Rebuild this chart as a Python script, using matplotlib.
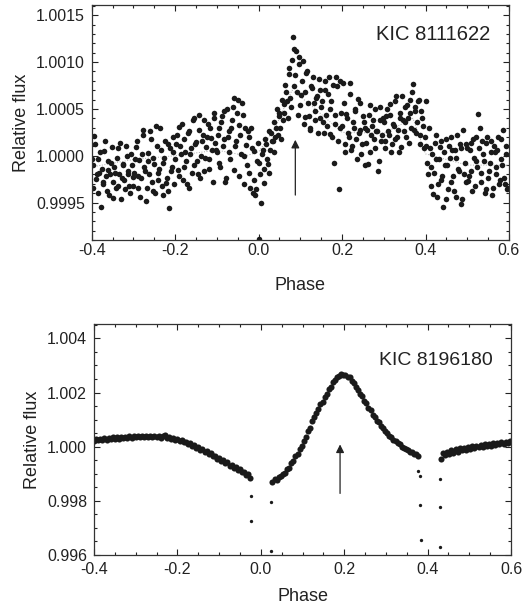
import numpy as np
import matplotlib
matplotlib.use('Agg')
import matplotlib.pyplot as plt
from matplotlib.ticker import MultipleLocator, FormatStrFormatter

plt.rcParams['font.family'] = ['Liberation Sans', 'DejaVu Sans']

# --- KIC 8111622 (top): flux offsets in units of 1e-4, ten phase segments of 0.1 ---
# first pass of points, phases start at -0.398, second pass at -0.400
top_a = [
    [-1.0, 2.1, -2.5, -0.3, -1.8, -5.5, -3.0, 0.5, -2.2, -1.5, -4.2, -0.8, -2.8, -1.2, -3.5, 0.8, -2.0, -4.6, -1.0, -2.6, 1.0, -1.6, -3.2, 0.2, -2.3],
    [-1.8, 0.9, -3.5, -0.5, -2.4, 2.8, -1.2, -4.8, 0.3, -2.0, 1.8, -3.8, -0.9, 3.2, -2.6, -1.4, 0.6, -4.2, -0.2, -2.9, 1.2, -5.6, -1.6, 0.4, -3.0],
    [1.2, -1.5, 3.1, 0.2, -2.6, 1.8, -0.6, 2.4, -3.4, 0.8, 3.8, -1.0, 1.5, -2.0, 4.4, 0.0, 2.2, -1.6, 0.9, 3.4, -0.4, 1.9, -2.8, 4.0, 0.6],
    [2.2, -0.8, 3.6, 1.0, 4.8, -2.4, 2.0, 0.4, 3.0, 5.2, -1.5, 1.6, 6.0, 3.3, 0.2, 4.4, -3.0, 1.1, 2.6, -1.8, 3.0, -4.0, 0.5, -3.6, 1.4],
    [-0.8, -5.0, 0.6, -2.9, 1.2, -0.9, -1.8, 2.4, 1.6, 0.4, 3.0, 2.2, 4.6, 1.8, 3.8, 5.5, 6.8, 4.0, 8.7, 5.2, 12.7, 7.4, 11.2, 4.4, 9.8],
    [6.5, 10.1, 4.1, 8.8, 5.6, 3.0, 7.4, 8.4, 4.8, 6.2, 2.4, 7.0, 5.2, 3.6, 8.0, 4.4, 6.6, 2.3, 5.8, 7.6, 3.4, 8.4, 1.6, 8.0, 4.6],
    [7.8, 1.2, 4.5, 2.4, 7.8, 0.6, 3.6, 5.0, 1.8, 6.1, 2.8, 0.2, 4.2, 3.0, 1.4, -0.9, 5.4, 2.2, 3.8, 0.8, 2.6, -1.6, 5.2, 1.6, 4.0],
    [1.6, 4.2, 2.6, 5.5, 0.4, 3.4, 1.8, 6.4, 2.8, 4.6, 0.9, 3.8, 5.2, 2.0, 4.0, 6.0, 3.0, 7.7, 4.8, 2.4, 5.8, 1.2, 4.8, 3.2, 2.0],
    [5.9, -2.0, 0.8, -1.2, -4.1, 1.4, -0.4, -3.0, 0.9, -2.6, -5.5, -1.0, 1.8, -3.6, -0.2, 2.0, -2.2, 0.6, -4.4, -1.4, 1.2, -5.2, 2.7, -0.8, -2.8],
    [-2.7, 0.6, -1.6, 1.8, -3.2, -0.6, 4.5, 3.0, -1.8, 0.2, -4.0, 1.4, -2.4, -0.8, 1.6, -3.4, 0.4, -1.2, 2.0, -2.6, -0.4, 2.7, -3.0, 1.0, -3.4],
]
top_b = [
    [-0.4, -3.4, 1.2, -2.0, -4.0, 0.4, -1.4, -2.8, 1.6, -3.8, -0.6, -2.0, 0.9, -4.5, -1.8, -0.2, -3.2, 1.4, -2.4, -0.9, -3.6, 0.0, -1.9, -4.0, -1.0],
    [-3.2, -0.4, 1.6, -2.2, -4.4, 0.2, 2.2, -1.6, -3.4, -0.6, 2.6, -2.8, -0.2, -4.0, 1.0, -1.8, 3.0, -3.2, -0.8, 1.6, -2.4, -3.8, 0.8, -1.2, 2.0],
    [-0.4, 2.2, -2.2, 1.0, 3.4, -1.2, 0.4, -3.0, 2.6, 0.2, -1.8, 4.0, 1.2, -0.6, 2.8, -2.4, 1.6, 3.8, -0.2, 2.0, -1.4, 3.0, 0.6, 4.6, 1.4],
    [0.4, 3.0, -1.2, 4.2, 1.8, -2.8, 5.0, 2.6, -0.4, 3.8, 6.2, 1.0, 4.6, -2.2, 2.2, 5.6, 0.0, 3.0, -1.0, 2.0, -3.4, 0.8, -2.6, -4.2, -0.6],
    [-8.9, -2.0, 0.2, -1.4, 1.8, -0.4, 2.6, 0.6, 1.6, 3.6, 2.0, 5.0, 4.2, 3.0, 6.0, 4.6, 7.6, 5.8, 9.4, 6.2, 10.2, 11.4, 8.6, 6.8, 10.6],
    [5.4, 8.0, 3.4, 6.8, 9.0, 4.2, 2.8, 7.2, 5.6, 3.8, 6.4, 8.2, 4.0, 5.8, 2.4, 7.0, 3.2, 8.4, 5.0, 2.0, -0.8, 4.4, 7.4, -3.6, 3.0],
    [3.2, 5.6, 0.4, 4.0, 2.0, 6.6, 1.0, 3.0, 4.8, -0.4, 2.4, 5.6, 1.2, 3.6, -1.0, 2.8, 4.4, 0.4, 3.2, 1.8, 5.0, 2.6, -0.6, 3.8, 2.2],
    [3.6, 0.8, 5.0, 2.2, 4.4, 1.2, 3.2, 5.8, 2.0, 0.4, 4.0, 6.4, 2.6, 3.6, 5.4, 1.4, 4.6, 6.8, 2.8, 5.2, 3.6, 6.0, 2.2, 4.0, 0.8],
    [1.0, -0.8, 3.0, -3.2, 0.2, -1.8, 2.2, -4.4, -0.4, 1.6, -2.2, 0.4, -4.6, -1.0, 1.0, -2.8, 0.6, -3.8, -0.2, 2.2, -1.6, 0.8, -4.6, -2.0, 1.2],
    [0.8, -2.2, 1.4, -3.8, -0.2, 2.0, -1.2, 0.8, -2.8, 1.6, -0.6, -3.6, 2.0, -1.6, 0.4, -4.2, 1.0, -2.0, 0.6, -3.0, 1.8, -1.0, -2.4, 0.2, -3.6],
]
seg_starts = [-0.4, -0.3, -0.2, -0.1, 0.0, 0.1, 0.2, 0.3, 0.4, 0.5]

# faint model curve (top)
model_phase = [-0.4, -0.3, -0.2, -0.1, -0.03, 0.0, 0.04, 0.08, 0.12, 0.2, 0.3, 0.37, 0.4, 0.5, 0.6]
model_flux = [-1.2, -0.4, 0.0, 0.6, 0.0, 0.4, 3.0, 7.0, 5.6, 2.5, 2.4, 4.0, 0.2, -1.0, -1.0]

# --- KIC 8196180 (bottom): flux offsets in units of 1e-4 ---
bot_seg1 = [2.0, 2.8, 2.3, 2.9, 2.5, 3.1, 2.6, 3.3, 2.8, 3.4, 2.9, 3.5, 3.0, 3.6, 3.1, 3.7, 3.2, 3.8, 3.3, 3.9,
            3.4, 4.0, 3.4, 4.0, 3.5, 4.1, 3.5, 4.0, 3.4, 4.1, 3.5, 4.0, 3.3, 3.9, 4.4, 3.3, 3.6, 2.9, 3.3, 2.5,
            2.8, 2.1, 2.3, 1.6, 1.8, 1.0, 1.2, 0.3, 0.5, -0.4, -0.3, -1.2, -1.0, -2.0, -1.7, -2.8, -2.5, -3.6, -3.3, -4.5,
            -4.1, -5.3, -5.0, -6.2, -5.8, -7.0, -6.6, -7.8, -7.5, -8.6, -8.3, -9.4, -9.2, -10.4, -10.0, -11.6]
bot_seg1_range = (-0.400, -0.025)
bot_seg2 = [-13.0, -11.8, -12.4, -11.2, -11.0, -10.0, -9.8, -8.4, -7.8, -6.2, -5.2, -3.4, -2.6, -0.8, 0.4, 2.2, 3.4, 5.6,
            7.0, 9.4, 10.8, 12.6, 13.8, 15.6, 16.6, 18.4, 19.6, 21.4, 22.2, 23.8, 24.6, 25.8, 26.2, 27.0, 26.4, 26.6,
            25.8, 25.6, 24.2, 23.4, 22.0, 21.0, 19.6, 18.6, 16.8, 16.0, 14.2, 13.4, 11.8, 11.0, 9.6, 9.0, 7.6, 7.0,
            5.8, 5.2, 4.0, 3.6, 2.6, 2.2, 1.2, 0.8, 0.0, -0.4, -1.0, -1.2, -1.8, -2.0, -2.6, -2.8, -3.6]
bot_seg2_range = (0.028, 0.378)
bot_seg3 = [-4.4, -2.4, -3.2, -1.8, -2.6, -1.4, -2.2, -1.0, -1.8, -0.6, -1.4, -0.4, -1.2, -0.2, -0.9, 0.2, -0.6,
            0.4, -0.3, 0.6, -0.1, 0.9, 0.2, 1.0, 0.4, 1.3, 0.6, 1.4, 0.8, 1.7, 1.0, 1.8, 1.2, 2.0]
bot_seg3_range = (0.432, 0.597)
# isolated in-eclipse points
ecl_phase = [-0.024, -0.024, 0.025, 0.025, 0.378, 0.381, 0.381, 0.383, 0.430, 0.430, 0.430]
ecl_flux = [-18.3, -27.5, -20.5, -38.6, -9.0, -10.9, -21.6, -34.6, -11.9, -22.3, -37.1]

# build arrays
tp, tf = [], []
for s, va, vb in zip(seg_starts, top_a, top_b):
    tp += list(np.linspace(s + 0.002, s + 0.098, len(va)))
    tf += va
    tp += list(np.linspace(s, s + 0.096, len(vb)))
    tf += vb
tp = np.array(tp)
tf = 1 + np.array(tf) * 1e-4

bp, bf = [], []
for vals, (a, b) in [(bot_seg1, bot_seg1_range), (bot_seg2, bot_seg2_range), (bot_seg3, bot_seg3_range)]:
    bp += list(np.linspace(a, b, len(vals)))
    bf += vals
bp = np.array(bp)
bf = 1 + np.array(bf) * 1e-4

fig = plt.figure(figsize=(5.22, 6.06), dpi=100)
ax1 = fig.add_axes([0.1757, 0.604, 0.7993, 0.3877])
ax2 = fig.add_axes([0.1801, 0.0842, 0.7989, 0.3807])

ax1.plot(model_phase, 1 + np.array(model_flux) * 1e-4, ls=':', color='#aaaaaa', lw=0.7)
ax1.plot(tp, tf, 'o', color='#1a1a1a', ms=4.0, mew=0)
ax2.plot(bp, bf, 'o', color='#1a1a1a', ms=4.4, mew=0)
ax2.plot(ecl_phase, 1 + np.array(ecl_flux) * 1e-4, 'o', color='#1a1a1a', ms=2.4, mew=0)

ax1.set_xlim(-0.4, 0.6)
ax1.set_ylim(0.99910, 1.00161)
ax2.set_xlim(-0.4, 0.6)
ax2.set_ylim(0.996, 1.00452)

ax1.yaxis.set_major_locator(MultipleLocator(0.0005))
ax1.yaxis.set_minor_locator(MultipleLocator(0.0001))
ax1.yaxis.set_major_formatter(FormatStrFormatter('%.4f'))
ax2.yaxis.set_major_locator(MultipleLocator(0.002))
ax2.yaxis.set_minor_locator(MultipleLocator(0.0005))
ax2.yaxis.set_major_formatter(FormatStrFormatter('%.3f'))

for ax in (ax1, ax2):
    ax.xaxis.set_major_locator(MultipleLocator(0.2))
    ax.xaxis.set_minor_locator(MultipleLocator(0.05))
    ax.xaxis.set_major_formatter(FormatStrFormatter('%.1f'))
    ax.tick_params(which='both', direction='in', top=True, right=True, labelsize=11.5, colors='#222222', width=0.8)
    ax.tick_params(which='major', length=4)
    ax.tick_params(which='minor', length=2.5)
    for sp in ax.spines.values():
        sp.set_linewidth(0.9)
        sp.set_color('#333333')
    ax.set_ylabel('Relative flux', fontsize=13, color='#222222', labelpad=4)

ax1.tick_params(axis='x', which='major', pad=2)
ax1.tick_params(axis='y', which='major', pad=5)
ax2.tick_params(which='major', pad=5)
ax1.set_xlabel('Phase', fontsize=13, color='#222222', labelpad=14)
ax2.set_xlabel('Phase', fontsize=13, color='#222222', labelpad=8)

ax1.text(0.281, 1.0013, 'KIC 8111622', fontsize=14.5, va='center', ha='left', color='#222222')
ax2.text(0.284, 1.00317, 'KIC 8196180', fontsize=14, va='center', ha='left', color='#222222')

ax1.annotate('', xy=(0.088, 1.0002), xytext=(0.088, 0.99955),
             arrowprops=dict(arrowstyle='-|>', color='#222222', lw=0.9, mutation_scale=12))
ax2.annotate('', xy=(0.190, 1.000185), xytext=(0.190, 0.99817),
             arrowprops=dict(arrowstyle='-|>', color='#222222', lw=0.9, mutation_scale=12))

fig.savefig('out.png', dpi=100)
